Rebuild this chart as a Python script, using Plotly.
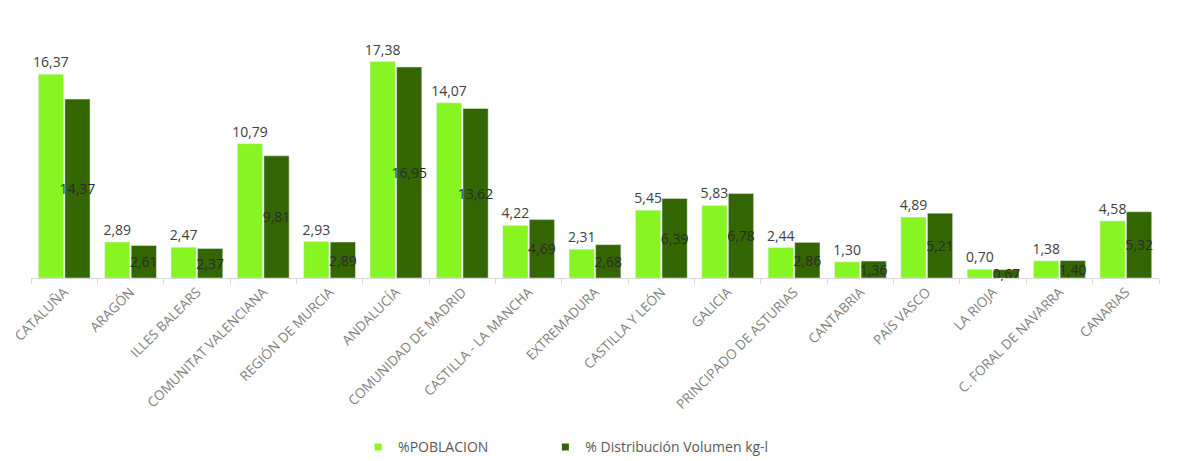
import plotly.graph_objects as go

# datos por comunidad autónoma
regiones = [
    "CATALUÑA", "ARAGÓN", "ILLES BALEARS", "COMUNITAT VALENCIANA", "REGIÓN DE MURCIA",
    "ANDALUCÍA", "COMUNIDAD DE MADRID", "CASTILLA - LA MANCHA", "EXTREMADURA",
    "CASTILLA Y LEÓN", "GALICIA", "PRINCIPADO DE ASTURIAS", "CANTABRIA", "PAÍS VASCO",
    "LA RIOJA", "C. FORAL DE NAVARRA", "CANARIAS",
]
poblacion = [16.37, 2.89, 2.47, 10.79, 2.93, 17.38, 14.07, 4.22, 2.31,
             5.45, 5.83, 2.44, 1.30, 4.89, 0.70, 1.38, 4.58]
volumen = [14.37, 2.61, 2.37, 9.81, 2.89, 16.95, 13.62, 4.69, 2.68,
           6.39, 6.78, 2.86, 1.36, 5.21, 0.67, 1.40, 5.32]

verde_claro = '#86F522'
verde_oscuro = '#336600'
gris = '#595959'

fig = go.Figure()
fig.add_trace(go.Bar(
    x=regiones, y=poblacion, name='%POBLACION', marker_color=verde_claro, showlegend=False,
    texttemplate='%{y:.2f}', textposition='outside', constraintext='none',
    textfont=dict(size=14, color='#404040'), cliponaxis=False,
))
fig.add_trace(go.Bar(
    x=regiones, y=volumen, name='% Distribución Volumen kg-l', marker_color=verde_oscuro,
    showlegend=False,
    texttemplate='%{y:.2f}', textposition='inside', insidetextanchor='middle', textangle=0,
    constraintext='none', textfont=dict(size=14, color='#2b2b2b'), cliponaxis=False,
))
# entradas de leyenda con marcador pequeño (una leyenda por serie)
fig.add_trace(go.Scatter(x=[None], y=[None], mode='markers', name='%POBLACION', legend='legend',
                         marker=dict(symbol='square', size=7, color=verde_claro)))
fig.add_trace(go.Scatter(x=[None], y=[None], mode='markers', name='% Distribución Volumen kg-l',
                         legend='legend2', marker=dict(symbol='square', size=7, color=verde_oscuro)))

fig.update_xaxes(
    tickangle=-45, tickfont=dict(size=13.5, color='#7f7f7f'), showline=True, linecolor='#D9D9D9',
    ticks='outside', tickson='boundaries', ticklen=5, tickcolor='#D9D9D9', automargin=False,
)
fig.update_yaxes(range=[0, 20], visible=False, showgrid=False, automargin=False)

leyenda = dict(orientation='h', xanchor='left', y=-0.68, yanchor='middle',
               font=dict(size=14, color=gris), itemwidth=30, bgcolor='rgba(0,0,0,0)')
fig.update_layout(
    width=1194, height=461, barmode='group', bargap=0.2, bargroupgap=0.05,
    separators=',.', paper_bgcolor='white', plot_bgcolor='white',
    font=dict(family='Open Sans, Liberation Sans, sans-serif', color=gris),
    margin=dict(l=23, r=43, t=21, b=191, autoexpand=False),
    legend=dict(leyenda, x=0.29),
    legend2=dict(leyenda, x=0.456),
)

fig.write_html("out.html")
